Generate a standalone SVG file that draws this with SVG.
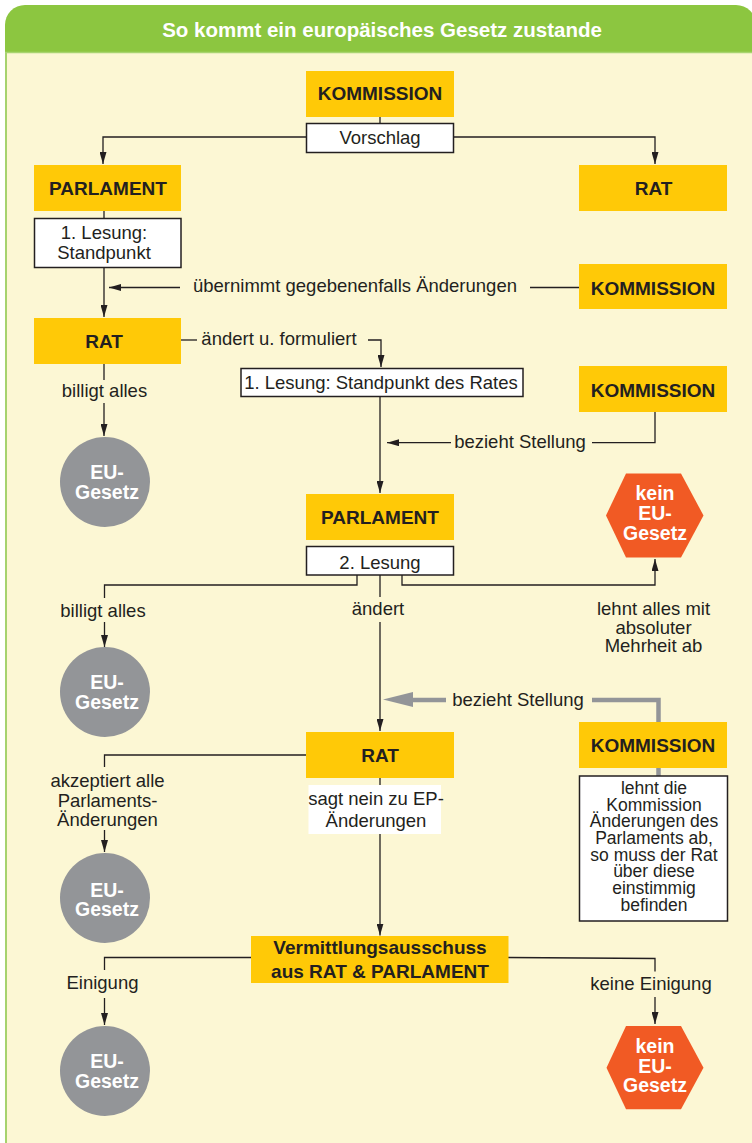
<svg xmlns="http://www.w3.org/2000/svg" width="752" height="1143" viewBox="0 0 752 1143">
<defs>
<style>
.t{font-family:"Liberation Sans",Arial,sans-serif;text-anchor:middle}
.b{font-weight:bold;font-size:19px;fill:#231F20}
.r{font-size:18.5px;fill:#231F20}
.n{font-size:17.5px;fill:#231F20}
.w{font-weight:bold;font-size:19.5px;fill:#FFFFFF}
.ttl{font-weight:bold;font-size:20.5px;fill:#FFFFFF}
.y{fill:#FFC907}
.wb{fill:#FFFFFF;stroke:#231F20;stroke-width:1.5}
.eu{fill:#939598}
.kein{fill:#F15A24}
.ln{fill:none;stroke:#231F20;stroke-width:1.3}
.ar{fill:none;stroke:#231F20;stroke-width:1.3;marker-end:url(#ah)}
.gl{fill:none;stroke:#939598;stroke-width:4.5}
</style>
<marker id="ah" viewBox="0 0 12 7" refX="12" refY="3.5" markerWidth="12" markerHeight="7" markerUnits="userSpaceOnUse" orient="auto">
<path d="M0,0 L12,3.5 L0,7 Z" fill="#231F20"/>
</marker>
</defs>

<g id="background">
<rect x="5" y="52" width="747" height="1091" fill="#FCF7D4"/>
<line x1="6" y1="52" x2="6" y2="1143" stroke="#A6D26E" stroke-width="2"/>
<path d="M5,52 V25 A20,20 0 0 1 25,5 H736 A20,20 0 0 1 756,25 V52 Z" fill="#8CC640"/>
<line x1="5" y1="52.5" x2="752" y2="52.5" stroke="#A8D46F" stroke-width="1.5"/>
<text class="t ttl" x="382" y="37">So kommt ein europäisches Gesetz zustande</text>
</g>

<g id="connectors">
<path class="ln" d="M380,117 V123"/>
<path class="ar" d="M306,137 H103 V164"/>
<path class="ar" d="M454,137 H655 V164"/>
<path class="ln" d="M104,211 V218.5"/>
<path class="ar" d="M104,267.5 V317"/>
<path class="ln" d="M579,287.5 H530"/>
<path class="ar" d="M180,287.5 H109"/>
<path class="ln" d="M181,340 H197"/>
<path class="ar" d="M368,340 H381 V367"/>
<path class="ln" d="M104,364 V380"/>
<path class="ar" d="M104,403 V436"/>
<path class="ar" d="M380,397 V493"/>
<path class="ln" d="M655,412 V442.7 H592"/>
<path class="ar" d="M451,442.7 H387"/>
<path class="ln" d="M357,575 V585 H104.5 V598"/>
<path class="ar" d="M104.5,622 V647"/>
<path class="ln" d="M380,575 V597"/>
<path class="ar" d="M380,622 V731"/>
<path class="ar" d="M402,575 V585 H655 V559"/>
<path class="gl" d="M658.5,722 V700 H592"/>
<path class="gl" d="M446,700 H410"/>
<polygon points="383,699.5 413,692 413,707" fill="#939598"/>
<path class="gl" d="M658.5,767 V776"/>
<path class="ln" d="M306,755 H104.5 V767"/>
<path class="ar" d="M104.5,830 V852"/>
<path class="ln" d="M380,778 V785"/>
<path class="ar" d="M380,834 V935.5"/>
<path class="ln" d="M251,957.5 H104.5 V970"/>
<path class="ar" d="M104.5,998 V1025"/>
<path class="ln" d="M508,957.5 L655,958.5 V971.5"/>
<path class="ar" d="M655,997 V1024"/>
</g>

<g id="labels">
<text class="t r" x="355" y="292">übernimmt gegebenenfalls Änderungen</text>
<text class="t r" x="279" y="344.5">ändert u. formuliert</text>
<text class="t r" x="104.5" y="396.5">billigt alles</text>
<text class="t r" x="520" y="447.5">bezieht Stellung</text>
<text class="t r" x="103" y="616.5">billigt alles</text>
<text class="t r" x="378" y="615">ändert</text>
<text class="t r" x="653.5" y="615">lehnt alles mit</text>
<text class="t r" x="653.5" y="633.5">absoluter</text>
<text class="t r" x="653.5" y="652">Mehrheit ab</text>
<text class="t r" x="518" y="705.5">bezieht Stellung</text>
<text class="t r" x="107.5" y="787">akzeptiert alle</text>
<text class="t r" x="107.5" y="806.5">Parlaments-</text>
<text class="t r" x="107.5" y="826">Änderungen</text>
<text class="t r" x="102.5" y="988.5">Einigung</text>
<text class="t r" x="651" y="990">keine Einigung</text>
</g>

<g id="kommission1">
<rect class="y" x="306" y="71" width="148" height="46"/>
<text class="t b" x="380" y="100">KOMMISSION</text>
</g>
<g id="vorschlag">
<rect class="wb" x="306.5" y="123.5" width="147" height="29"/>
<text class="t r" x="380" y="144">Vorschlag</text>
</g>
<g id="parlament1">
<rect class="y" x="34" y="165" width="147" height="46"/>
<text class="t b" x="108" y="195">PARLAMENT</text>
</g>
<g id="rat1">
<rect class="y" x="579" y="165" width="148" height="46"/>
<text class="t b" x="653.5" y="195">RAT</text>
</g>
<g id="lesung1">
<rect class="wb" x="34.5" y="218.5" width="146.5" height="49"/>
<text class="t r" x="104" y="238.5">1. Lesung:</text>
<text class="t r" x="104" y="258.5">Standpunkt</text>
</g>
<g id="kommission2">
<rect class="y" x="579" y="264" width="148" height="45"/>
<text class="t b" x="653" y="295">KOMMISSION</text>
</g>
<g id="rat2">
<rect class="y" x="34" y="318" width="147" height="46"/>
<text class="t b" x="104" y="347.5">RAT</text>
</g>
<g id="lesung-rat">
<rect class="wb" x="241" y="368.5" width="282" height="28"/>
<text class="t r" x="381" y="388.5">1. Lesung: Standpunkt des Rates</text>
</g>
<g id="kommission3">
<rect class="y" x="579" y="366" width="148" height="46"/>
<text class="t b" x="653" y="396.5">KOMMISSION</text>
</g>
<g id="eu1">
<circle class="eu" cx="105" cy="482" r="45"/>
<text class="t w" x="107" y="479">EU-</text>
<text class="t w" x="107" y="499">Gesetz</text>
</g>
<g id="parlament2">
<rect class="y" x="306" y="494" width="148" height="46"/>
<text class="t b" x="380" y="524">PARLAMENT</text>
</g>
<g id="lesung2">
<rect class="wb" x="306.5" y="546.5" width="147" height="28.5"/>
<text class="t r" x="380" y="568.5">2. Lesung</text>
</g>
<g id="kein1">
<polygon class="kein" points="626,473.5 681,473.5 703.5,515.5 681,557.5 626,557.5 606,515.5"/>
<text class="t w" x="655" y="500">kein</text>
<text class="t w" x="655" y="520">EU-</text>
<text class="t w" x="655" y="539.5">Gesetz</text>
</g>
<g id="eu2">
<circle class="eu" cx="105" cy="692" r="45"/>
<text class="t w" x="107" y="688.5">EU-</text>
<text class="t w" x="107" y="708.5">Gesetz</text>
</g>
<g id="kommission4">
<rect class="y" x="579" y="722" width="148" height="46"/>
<text class="t b" x="653" y="752">KOMMISSION</text>
</g>
<g id="kommission-note">
<rect class="wb" x="579.5" y="776" width="148" height="145"/>
<text class="t n" x="654" y="794">lehnt die</text>
<text class="t n" x="654" y="810.7">Kommission</text>
<text class="t n" x="654" y="827.3">Änderungen des</text>
<text class="t n" x="654" y="844">Parlaments ab,</text>
<text class="t n" x="654" y="860.7">so muss der Rat</text>
<text class="t n" x="654" y="877.3">über diese</text>
<text class="t n" x="654" y="894">einstimmig</text>
<text class="t n" x="654" y="910.5">befinden</text>
</g>
<g id="rat3">
<rect class="y" x="306" y="732" width="148" height="46"/>
<text class="t b" x="380" y="761.5">RAT</text>
</g>
<g id="sagt-nein">
<rect x="308.5" y="785" width="132.5" height="49" fill="#FFFFFF"/>
<text class="t r" x="376" y="805">sagt nein zu EP-</text>
<text class="t r" x="376" y="826.5">Änderungen</text>
</g>
<g id="eu3">
<circle class="eu" cx="105" cy="898" r="45"/>
<text class="t w" x="107" y="897">EU-</text>
<text class="t w" x="107" y="916">Gesetz</text>
</g>
<g id="vermittlung">
<rect class="y" x="251" y="936" width="257.5" height="47"/>
<text class="t b" x="380" y="953.5">Vermittlungsausschuss</text>
<text class="t b" x="380" y="977.5">aus RAT &amp; PARLAMENT</text>
</g>
<g id="eu4">
<circle class="eu" cx="105" cy="1071" r="45"/>
<text class="t w" x="107" y="1067.5">EU-</text>
<text class="t w" x="107" y="1088">Gesetz</text>
</g>
<g id="kein2">
<polygon class="kein" points="626,1026 681,1026 703.5,1067.7 681,1109.3 626,1109.3 606.5,1067.7"/>
<text class="t w" x="655" y="1052.5">kein</text>
<text class="t w" x="655" y="1072.5">EU-</text>
<text class="t w" x="655" y="1091.5">Gesetz</text>
</g>
</svg>
